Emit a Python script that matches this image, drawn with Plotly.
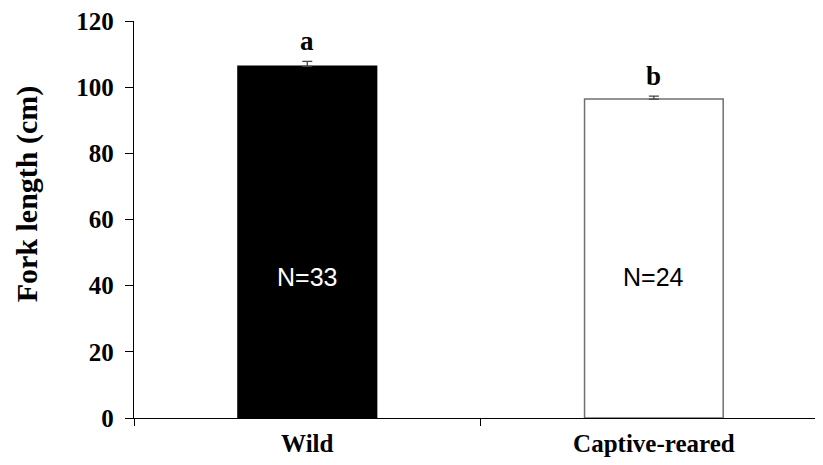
import plotly.graph_objects as go

categories = ["Wild", "Captive-reared"]
fork_length = [106.3, 96.4]
std_error = [1.5, 0.9]
sig_letters = ["a", "b"]
n_labels = ["N=33", "N=24"]
y_ticks = [0, 20, 40, 60, 80, 100, 120]

bar_colors = ["black", "white"]
line_colors = ["black", "#707070"]
n_text_colors = ["white", "black"]

serif = "Liberation Serif"
sans = "Liberation Sans"

fig = go.Figure()
fig.add_trace(go.Bar(
    x=categories,
    y=fork_length,
    width=0.40,
    marker=dict(color=bar_colors, line=dict(color=line_colors, width=1.5)),
    error_y=dict(type="data", symmetric=False, array=std_error,
                 arrayminus=[0] * len(std_error),
                 color="#444444", thickness=1.3, width=5),
    showlegend=False,
    hoverinfo="skip",
))

for cat, val, se, letter in zip(categories, fork_length, std_error, sig_letters):
    fig.add_annotation(x=cat, y=val + se, text=letter, showarrow=False,
                       yanchor="bottom", yshift=3,
                       font=dict(family=serif, size=27, color="black", weight="bold"))

for cat, lab, col in zip(categories, n_labels, n_text_colors):
    fig.add_annotation(x=cat, y=42.6, text=lab, showarrow=False,
                       yanchor="middle",
                       font=dict(family=sans, size=25, color=col))

fig.add_annotation(xref="paper", yref="paper", x=-0.155, y=0.564,
                   text="Fork length (cm)", textangle=-90, showarrow=False,
                   xanchor="center", yanchor="middle",
                   font=dict(family=serif, size=30, color="black", weight="bold"))

fig.update_layout(
    width=815, height=457,
    margin=dict(l=126, r=0, t=11, b=47),
    paper_bgcolor="white", plot_bgcolor="white",
    xaxis=dict(
        type="category", range=[-0.5, 1.488],
        showline=True, linecolor="black", linewidth=1.3,
        ticks="outside", tickson="boundaries", ticklen=7, tickcolor="black", tickwidth=1,
        showgrid=False, zeroline=False,
        ticklabelstandoff=3, ticklabeloverflow="allow",
        tickfont=dict(family=serif, size=25, color="black", weight="bold"),
    ),
    yaxis=dict(
        range=[0, 120], tickvals=y_ticks,
        showline=True, linecolor="black", linewidth=1.3,
        ticks="outside", ticklen=8, tickcolor="black", tickwidth=1,
        showgrid=False, zeroline=False,
        ticklabelstandoff=6, ticklabeloverflow="allow",
        tickfont=dict(family=serif, size=25, color="black", weight="bold"),
    ),
)

fig.write_html("out.html")
